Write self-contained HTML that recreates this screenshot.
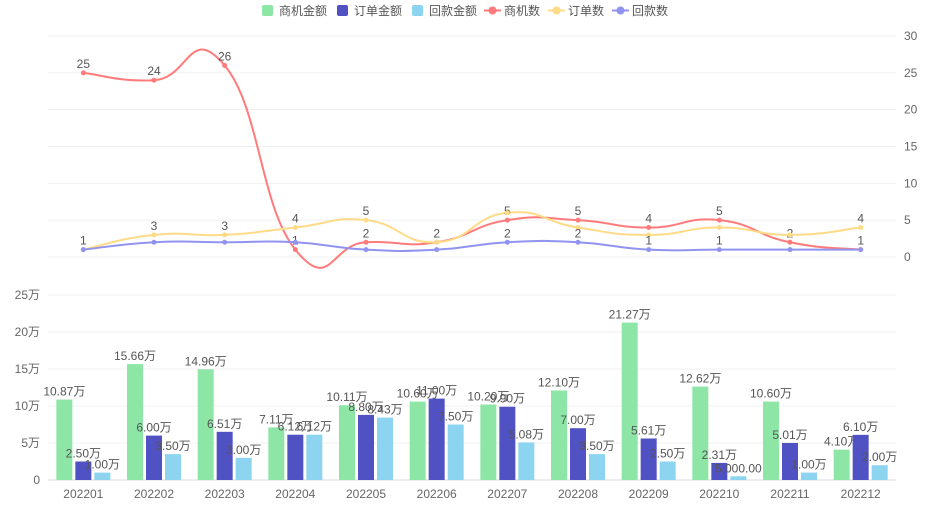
<!DOCTYPE html>
<html><head><meta charset="utf-8"><style>
body{margin:0;background:#fff;font-family:"Liberation Sans","Noto Sans CJK SC",sans-serif;}
svg text{font-family:"Liberation Sans","Noto Sans CJK SC",sans-serif;}
</style></head><body>
<svg id="c" width="931" height="505" xmlns="http://www.w3.org/2000/svg"></svg>
<script>
const categories=["202201","202202","202203","202204","202205","202206","202207","202208","202209","202210","202211","202212"];
const oppAmount=[10.87,15.66,14.96,7.11,10.11,10.6,10.2,12.1,21.27,12.62,10.6,4.1];
const orderAmount=[2.5,6.0,6.51,6.12,8.8,11.0,9.9,7.0,5.61,2.31,5.01,6.1];
const payAmount=[1.0,3.5,3.0,6.12,8.43,7.5,5.08,3.5,2.5,0.5,1.0,2.0];
const oppCount=[25,24,26,1,2,2,5,5,4,5,2,1];
const orderCount=[1,3,3,4,5,2,6,4,3,4,3,4];
const payCount=[1,2,2,2,1,1,2,2,1,1,1,1];
const topTicks=[0,5,10,15,20,25,30];
const botTicks=[0,5,10,15,20,25];

const svg=document.getElementById('c');const NS="http://www.w3.org/2000/svg";
function mk(t,a,p){const e=document.createElementNS(NS,t);for(const k in a)e.setAttribute(k,a[k]);(p||svg).appendChild(e);return e;}
const X0=48,X1=896,bw=(X1-X0)/categories.length;
const xc=i=>X0+bw*(i+0.5);
const yTop=v=>257-v*(221/30);
const yBot=v=>480-v*(185/25);

// legend
const legend=[["商机金额","#8ee6a6","rect"],["订单金额","#5052c4","rect"],["回款金额","#8dd4f0","rect"],["商机数","#ff7b7b","line"],["订单数","#ffdb87","line"],["回款数","#9193f0","line"]];
let lx=262;
legend.forEach((l,i)=>{
 const g=mk('g',{});
 
 
 if(l[2]=="rect")mk('rect',{x:lx,y:5,width:11,height:11,rx:2,fill:l[1]},g);
 else{mk('line',{x1:lx-3,y1:10.5,x2:lx+14,y2:10.5,stroke:l[1],'stroke-width':2},g);mk('circle',{cx:lx+5.5,cy:10.5,r:4,fill:l[1]},g);}
 const t=mk('text',{x:lx+17,y:15,'font-size':12,fill:'#555'},g);t.textContent=l[0];
 lx+=17+l[0].length*12+(l[2]=="rect"?10:11);
});

// top grid & axis
topTicks.forEach(v=>{
 const y=yTop(v);
 const ln=mk('line',{x1:X0,x2:X1,y1:y,y2:y,stroke:'#f0f0f0'});
 
 
 const t=mk('text',{x:904,y:y+4,'font-size':12,fill:'#666'});
 
 
 t.textContent=v;
});
// bottom grid & axis
botTicks.forEach(v=>{
 const y=yBot(v);
 const ln=mk('line',{x1:X0,x2:X1,y1:y,y2:y,stroke:v==0?'#d8dbe6':'#f0f0f0'});
 
 
 const t=mk('text',{x:40,y:y+4,'font-size':12,fill:'#666','text-anchor':'end'});
 
 
 t.textContent=v==0?'0':v+'万';
});
categories.forEach((c,i)=>{
 const t=mk('text',{x:xc(i),y:498,'font-size':12,fill:'#666','text-anchor':'middle'});
 
 
 t.textContent=c;
});
// bars
const series=[[oppAmount,"#8ee6a6",-19],[orderAmount,"#5052c4",0],[payAmount,"#8dd4f0",19]];
function fmt(v){return v<1?(v*10000).toLocaleString('en-US',{minimumFractionDigits:2}):v.toFixed(2)+'万';}
series.forEach((s,si)=>{
 s[0].forEach((v,i)=>{
  const cx=xc(i)+s[2],y=yBot(v);
  const r=mk('rect',{x:cx-8,y:y,width:16,height:480-y,fill:s[1]});
  
  
  const t=mk('text',{x:cx,y:y-4,'font-size':12,fill:'#555','text-anchor':'middle'});
  
  
  t.textContent=fmt(v);
 });
});
// lines
function smooth(pts){
 let d='M'+pts[0][0]+','+pts[0][1];
 for(let i=0;i<pts.length-1;i++){
  const p0=pts[i-1]||pts[i],p1=pts[i],p2=pts[i+1],p3=pts[i+2]||p2;
  const k=0.25;
  const c1=[p1[0]+(p2[0]-p0[0])*k,p1[1]+(p2[1]-p0[1])*k];
  const c2=[p2[0]-(p3[0]-p1[0])*k,p2[1]-(p3[1]-p1[1])*k];
  d+=' C'+c1+' '+c2+' '+p2;
 }
 return d;
}
const lines=[[oppCount,"#ff7b7b","opp-count-line"],[orderCount,"#ffdb87","order-count-line"],[payCount,"#9193f0","pay-count-line"]];
const drawn=categories.map(()=>[]);
lines.forEach(l=>{
 const pts=l[0].map((v,i)=>[xc(i),yTop(v)]);
 const p=mk('path',{d:smooth(pts),fill:'none',stroke:l[1],'stroke-width':2});
 
 
});
lines.forEach(l=>{
 l[0].forEach((v,i)=>{
  const x=xc(i),y=yTop(v);
  const c=mk('circle',{cx:x,cy:y,r:2.5,fill:l[1]});
  
  
  if(drawn[i].some(d=>Math.abs(d-y)<12))return;
  drawn[i].push(y);
  const t=mk('text',{x:x,y:y-5,'font-size':12,fill:'#555','text-anchor':'middle'});
  
  
  t.textContent=v;
 });
});
</script>
</body></html>
